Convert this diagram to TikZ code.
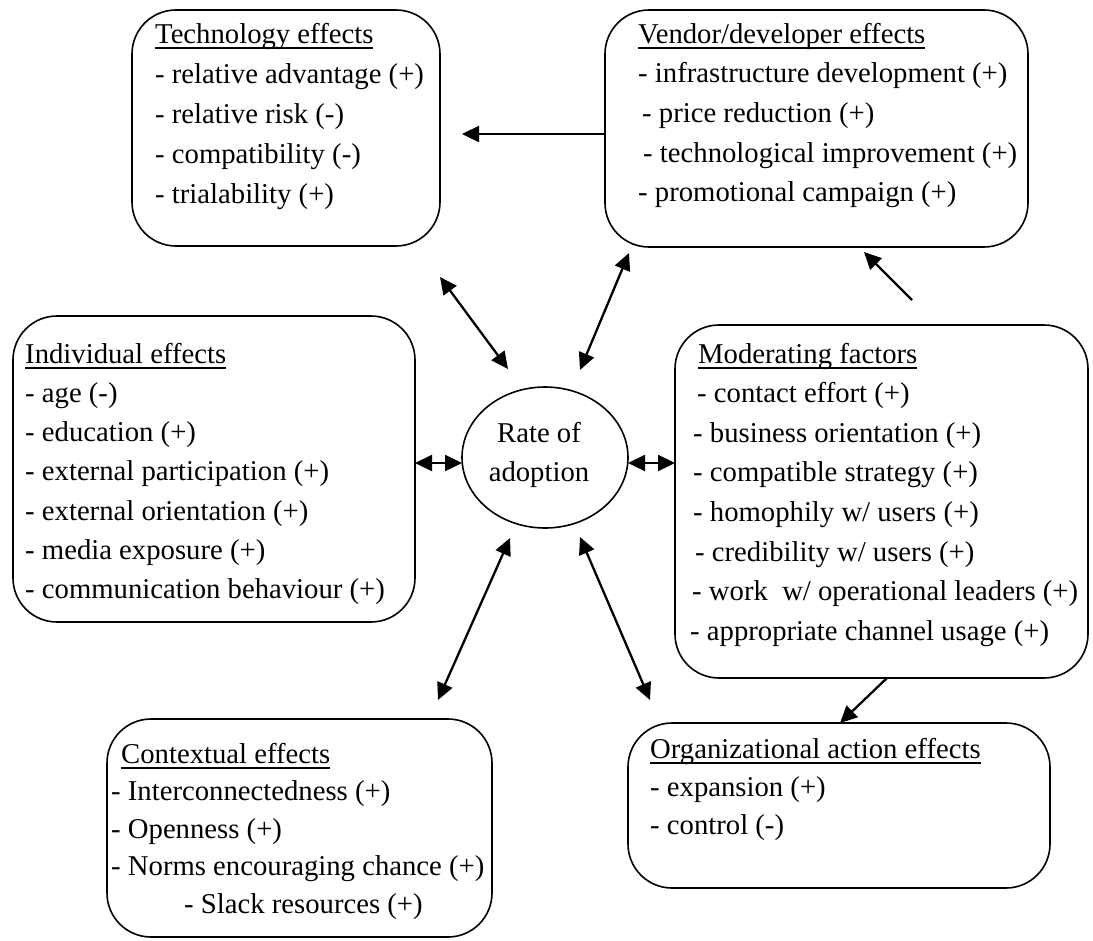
\documentclass[tikz,border=0pt]{standalone}
\usepackage{fontspec}
\setmainfont{Liberation Serif}
\usetikzlibrary{arrows.meta,shapes.geometric}
\newcommand\ttl[1]{\setbox0\hbox{#1}\rlap{\rule[-5.5bp]{\wd0}{1.5bp}}\box0}
\tikzset{
  box/.style={draw, line width=1.6bp, rounded corners=44bp, inner sep=0pt},
  txt/.style={anchor=base west, inner sep=0pt, font=\fontsize{28.7bp}{#1}\selectfont},
  txt/.default=39.5bp,
  oval/.style={draw, ellipse, line width=1.6bp, inner sep=0pt},
  tipA/.tip={Triangle[length=17bp,width=16bp]},
  conn/.style={line width=2.3bp, -tipA},
  bidir/.style={line width=2.3bp, tipA-tipA},
}
\begin{document}
\begin{tikzpicture}[x=1bp, y=-1bp]
\useasboundingbox (0,0) rectangle (1093,941);

% boxes
\node[box, minimum width=308bp, minimum height=236bp] (tech) at (286,128) {};
\node[box, minimum width=423bp, minimum height=237bp] (vend) at (816.5,128.5) {};
\node[box, minimum width=402bp, minimum height=306bp] (indiv) at (214,469) {};
\node[box, minimum width=413bp, minimum height=353bp] (mod) at (881.5,501.5) {};
\node[box, minimum width=385bp, minimum height=218bp] (ctx) at (299.5,828) {};
\node[box, minimum width=422bp, minimum height=165bp] (org) at (839,805.5) {};
\node[oval, minimum width=166bp, minimum height=141bp] (rate) at (545,457.5) {};

% texts
\node[txt=40bp] (techtxt) at (155,43) {\begin{tabular}[t]{@{}l@{}}
\ttl{Technology effects}\\
- relative advantage (+)\\
- relative risk (-)\\
- compatibility (-)\\
- trialability (+)\end{tabular}};

\node[txt=39.7bp] (vendtxt) at (638,43) {\begin{tabular}[t]{@{}l@{}}
\ttl{Vendor/developer effects}\\
- infrastructure development (+)\\
\hspace*{4bp}- price reduction (+)\\
\hspace*{5bp}- technological improvement (+)\\
- promotional campaign (+)\end{tabular}};

\node[txt=39.3bp] (indivtxt) at (25,363) {\begin{tabular}[t]{@{}l@{}}
\ttl{Individual effects}\\
- age (-)\\
- education (+)\\
- external participation (+)\\
- external orientation (+)\\
- media exposure (+)\\
- communication behaviour (+)\end{tabular}};

\node[txt=39.6bp] (modtxt) at (690,363) {\begin{tabular}[t]{@{}l@{}}
\hspace*{8bp}\ttl{Moderating factors}\\
\hspace*{7bp}- contact effort (+)\\
\hspace*{3bp}- business orientation (+)\\
\hspace*{3bp}- compatible strategy (+)\\
\hspace*{3bp}- homophily w/ users (+)\\
\hspace*{5bp}- credibility w/ users (+)\\
\hspace*{2bp}- work\ \ w/ operational leaders (+)\\
- appropriate channel usage (+)\end{tabular}};

\node[txt=37.5bp] (ctxtxt) at (111,763) {\begin{tabular}[t]{@{}l@{}}
\hspace*{10bp}\ttl{Contextual effects}\\
- Interconnectedness (+)\\
- Openness (+)\\
- Norms encouraging chance (+)\\
\hspace*{73bp}- Slack resources (+)\end{tabular}};

\node[txt=38bp] (orgtxt) at (650,758) {\begin{tabular}[t]{@{}l@{}}
\ttl{Organizational action effects}\\
- expansion (+)\\
- control (-)\end{tabular}};

\node[txt, anchor=base] (ratetxt) at (539,442) {\begin{tabular}[t]{@{}c@{}}
Rate of\\adoption\end{tabular}};

% connector end points
\coordinate (vt1) at (605,134);  \coordinate (vt2) at (462,134);
\coordinate (tr1) at (440,277);  \coordinate (tr2) at (508,369);
\coordinate (vr1) at (629,253);  \coordinate (vr2) at (580,370);
\coordinate (ir1) at (415,463);  \coordinate (ir2) at (462,463);
\coordinate (mr1) at (675,463);  \coordinate (mr2) at (628,463);
\coordinate (cr1) at (438,700);  \coordinate (cr2) at (510,538);
\coordinate (or1) at (650,700);  \coordinate (or2) at (580,537);
\coordinate (mv1) at (912,300);  \coordinate (mv2) at (864,252);
\coordinate (mo1) at (887,678);  \coordinate (mo2) at (840,723);

\draw[conn] (vt1) -- (vt2);
\draw[bidir] (tr1) -- (tr2);
\draw[bidir] (vr1) -- (vr2);
\draw[bidir] (ir1) -- (ir2);
\draw[bidir] (mr1) -- (mr2);
\draw[bidir] (cr1) -- (cr2);
\draw[bidir] (or1) -- (or2);
\draw[conn] (mv1) -- (mv2);
\draw[conn] (mo1) -- (mo2);
\end{tikzpicture}
\end{document}
